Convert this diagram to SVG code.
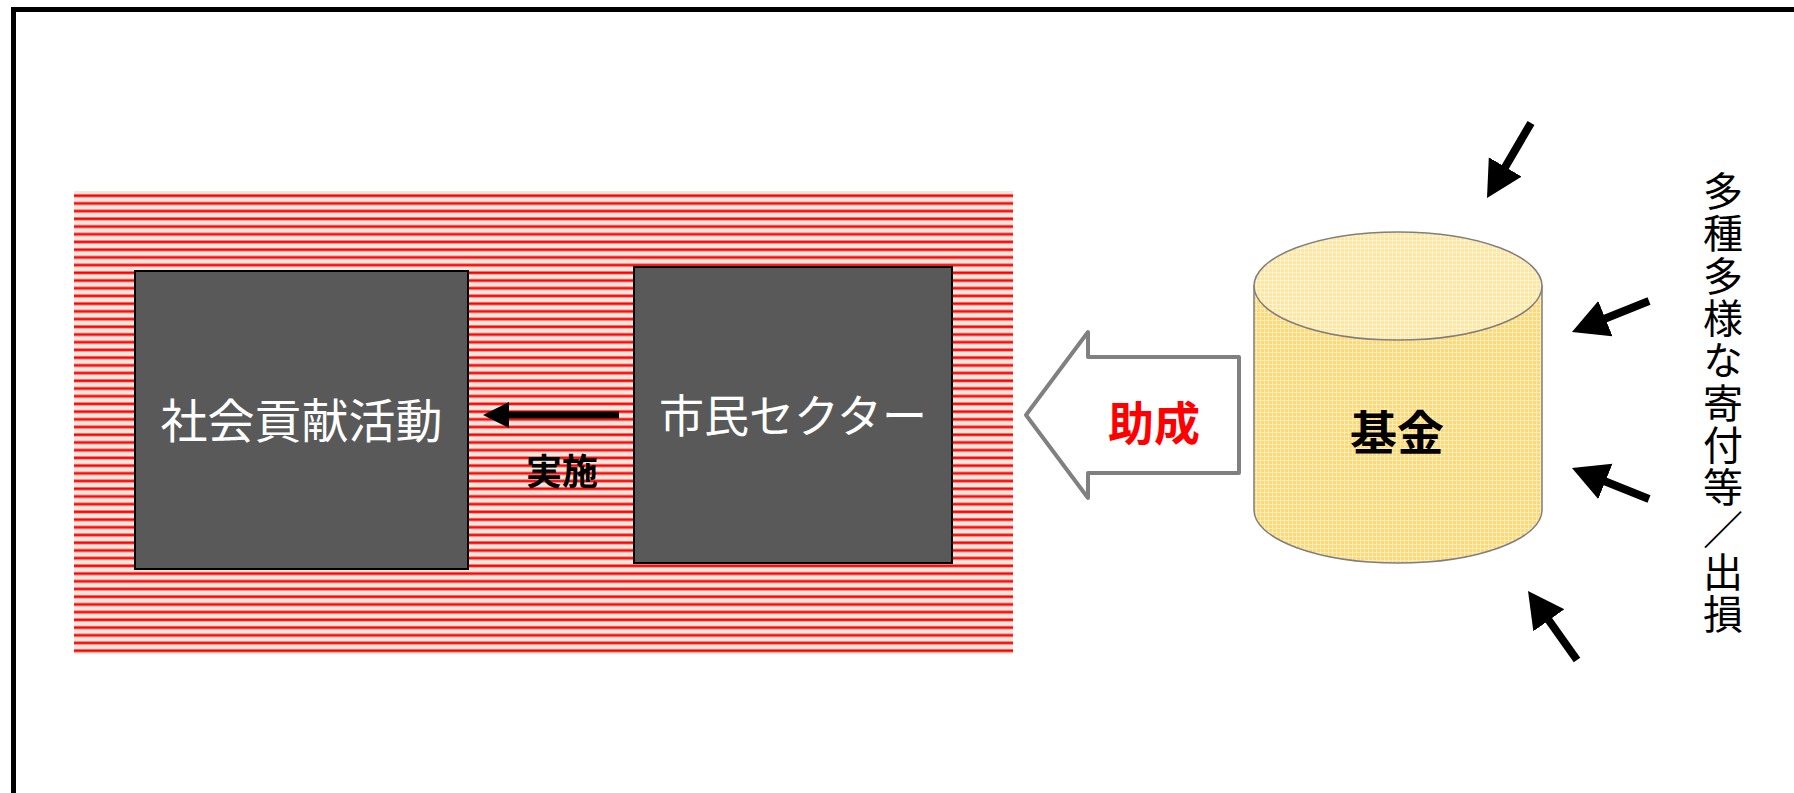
<svg xmlns="http://www.w3.org/2000/svg" width="1794" height="793" viewBox="0 0 1794 793">
<style>
.box{fill:#595959;stroke:#000;stroke-width:2}
.wt{font-family:"Noto Sans CJK JP","Noto Sans CJK SC",sans-serif;fill:#fff;text-anchor:middle}
.bt{font-family:"Noto Sans CJK JP","Noto Sans CJK SC",sans-serif;font-weight:bold;text-anchor:middle}
.in{stroke:#000;stroke-width:8;fill:none}
</style>
<defs>
<pattern id="hatch" patternUnits="userSpaceOnUse" x="0" y="192" width="10" height="7.712">
<rect width="10" height="7.712" fill="#ECE9DF"/>
<rect y="2.0" width="10" height="3.4" fill="#FF6A6A"/>
<rect y="2.8" width="10" height="1.8" fill="#FF0000"/>
</pattern>
<pattern id="grid" patternUnits="userSpaceOnUse" width="4" height="4">
<rect width="4" height="4" fill="#FFD873"/>
<rect width="4" height="1" fill="#FFEDBF"/>
<rect width="1" height="4" fill="#FFEDBF"/>
</pattern>
<pattern id="gridTop" patternUnits="userSpaceOnUse" width="4" height="4">
<rect width="4" height="4" fill="#FFE6A0"/>
<rect width="4" height="1" fill="#FFF3D6"/>
<rect width="1" height="4" fill="#FFF3D6"/>
</pattern>
<marker id="ah" markerUnits="userSpaceOnUse" markerWidth="40" markerHeight="40" refX="2" refY="19" orient="auto">
<path d="M0,0 L36,19 L0,38 Z" fill="#000"/>
</marker>
<marker id="ahs" markerUnits="userSpaceOnUse" markerWidth="30" markerHeight="26" refX="2" refY="13" orient="auto">
<path d="M0,0 L26,13 L0,26 Z" fill="#000"/>
</marker>
</defs>
<rect width="1794" height="793" fill="#fff"/>
<rect x="13.5" y="9.5" width="1800" height="800" fill="none" stroke="#000" stroke-width="5"/>
<g id="area">
<rect x="74" y="191" width="939" height="463" fill="url(#hatch)"/>
</g>
<g id="node-social">
<rect class="box" x="135" y="271" width="333" height="298"/>
<text class="wt" x="301.5" y="438" font-size="47">社会貢献活動</text>
</g>
<g id="node-citizen">
<rect class="box" x="634" y="267" width="318" height="296"/>
<text class="wt" x="793" y="433" font-size="45">市民セクター</text>
</g>
<g id="node-fund">
<path d="M1254,285 L1254,510 A144,53 0 0 0 1542,510 L1542,285" fill="url(#grid)" stroke="#7F7F7F" stroke-width="1.5"/>
<ellipse cx="1398" cy="286" rx="144" ry="54" fill="url(#gridTop)" stroke="#7F7F7F" stroke-width="1.5"/>
<text class="bt" x="1397" y="450" font-size="47" fill="#000">基金</text>
</g>
<g id="node-donations">
<text x="1723" y="171" font-family="'Noto Sans CJK JP','Noto Sans CJK SC',sans-serif" font-size="40" letter-spacing="2.3" fill="#000" style="writing-mode:vertical-rl">多種多様な寄付等／出損</text>
</g>
<g id="connectors">
<line x1="619" y1="415" x2="507" y2="415" stroke="#000" stroke-width="7" marker-end="url(#ahs)"/>
<text class="bt" x="562" y="485" font-size="36" fill="#000">実施</text>
<path d="M1026,415 L1088,332 L1088,357 L1239,357 L1239,473 L1088,473 L1088,498 Z" fill="#fff" stroke="#808080" stroke-width="4" stroke-linejoin="round"/>
<text class="bt" x="1154" y="440" font-size="46" fill="#FF0000">助成</text>
<line class="in" x1="1531" y1="123" x2="1504.2" y2="168.7" marker-end="url(#ah)"/>
<line class="in" x1="1649" y1="301" x2="1603.5" y2="319.3" marker-end="url(#ah)"/>
<line class="in" x1="1649" y1="499" x2="1603.5" y2="480.7" marker-end="url(#ah)"/>
<line class="in" x1="1577" y1="660" x2="1547.7" y2="618.7" marker-end="url(#ah)"/>
</g>
</svg>
